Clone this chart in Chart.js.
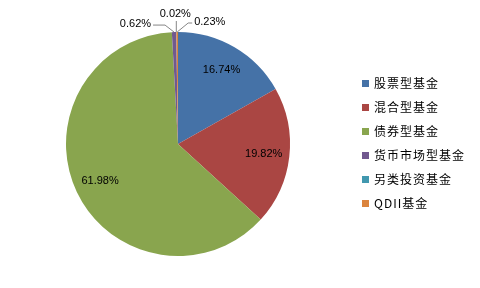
<!DOCTYPE html>
<html>
<head>
<meta charset="utf-8">
<script src="https://cdn.jsdelivr.net/npm/chart.js@4/dist/chart.umd.min.js"></script>
<style>
  html, body { margin: 0; padding: 0; background: #fff; }
  #wrap { width: 480px; height: 288px; }
</style>
</head>
<body>
<div id="wrap"><canvas id="pie" width="480" height="288"></canvas></div>
<script>
// datos del grafico
var categories = ["股票型基金", "混合型基金", "债券型基金", "货币市场型基金", "另类投资基金", "QDII基金"];
var values = [16.74, 19.82, 61.98, 0.62, 0.02, 0.23];
var colors = ["#4572A7", "#AA4643", "#89A54E", "#71588F", "#4198AF", "#DB843D"];

// leader offsets for the tiny slices: [elbow dx, elbow dy, tail dx, text align]
var leaders = {
  3: [-9, -7, -12, "right"],
  4: [0, -11, 0, "center"],
  5: [11, -9, 4, "left"]
};

var sliceLabels = {
  id: "sliceLabels",
  afterDatasetsDraw: function (chart) {
    var ctx = chart.ctx;
    var meta = chart.getDatasetMeta(0);
    ctx.save();
    ctx.font = '11px "Liberation Sans", Arial, sans-serif';
    ctx.fillStyle = "#000";
    meta.data.forEach(function (arc, i) {
      var text = values[i].toFixed(2) + "%";
      var mid = (arc.startAngle + arc.endAngle) / 2;
      var R = arc.outerRadius;
      if (!leaders[i]) {
        ctx.textAlign = "center";
        ctx.textBaseline = "middle";
        ctx.fillText(text, arc.x + Math.cos(mid) * R * 0.77, arc.y + Math.sin(mid) * R * 0.77);
        return;
      }
      var l = leaders[i];
      var x0 = arc.x + Math.cos(mid) * R, y0 = arc.y + Math.sin(mid) * R;
      var x1 = x0 + l[0], y1 = y0 + l[1];
      var x2 = x1 + l[2];
      ctx.strokeStyle = "#868686";
      ctx.lineWidth = 1;
      ctx.beginPath();
      ctx.moveTo(x0, y0);
      ctx.lineTo(x1, y1);
      ctx.lineTo(x2, y1);
      ctx.stroke();
      ctx.textAlign = l[3];
      ctx.textBaseline = "middle";
      if (l[3] == "center") {
        ctx.fillText(text, x2 - 1, y1 - 7);
      } else if (l[3] == "right") {
        ctx.fillText(text, x2 - 2, y1 - 1);
      } else {
        ctx.fillText(text, x2 + 2, y1 - 1);
      }
    });
    ctx.restore();
  }
};

// leyenda dibujada a mano
var sideLegend = {
  id: "sideLegend",
  afterDraw: function (chart) {
    var ctx = chart.ctx;
    ctx.save();
    ctx.font = '12px "Noto Sans CJK SC", sans-serif';
    ctx.letterSpacing = "1px";
    ctx.textAlign = "left";
    ctx.textBaseline = "middle";
    categories.forEach(function (name, i) {
      var y = 83.5 + i * 24;
      ctx.fillStyle = colors[i];
      ctx.fillRect(362, y - 3.5, 7, 7);
      ctx.fillStyle = "#000";
      ctx.fillText(name, 374, y);
    });
    ctx.restore();
  }
};

var chart = new Chart(document.getElementById("pie").getContext("2d"), {
  type: "pie",
  data: {
    labels: categories,
    datasets: [{
      data: values,
      backgroundColor: colors,
      borderWidth: 0
    }]
  },
  options: {
    responsive: false,
    animation: false,
    layout: { padding: { top: 32, bottom: 32, left: 66, right: 190 } },
    plugins: {
      legend: { display: false },
      tooltip: { enabled: false }
    }
  },
  plugins: [sliceLabels, sideLegend]
});
</script>
</body>
</html>
